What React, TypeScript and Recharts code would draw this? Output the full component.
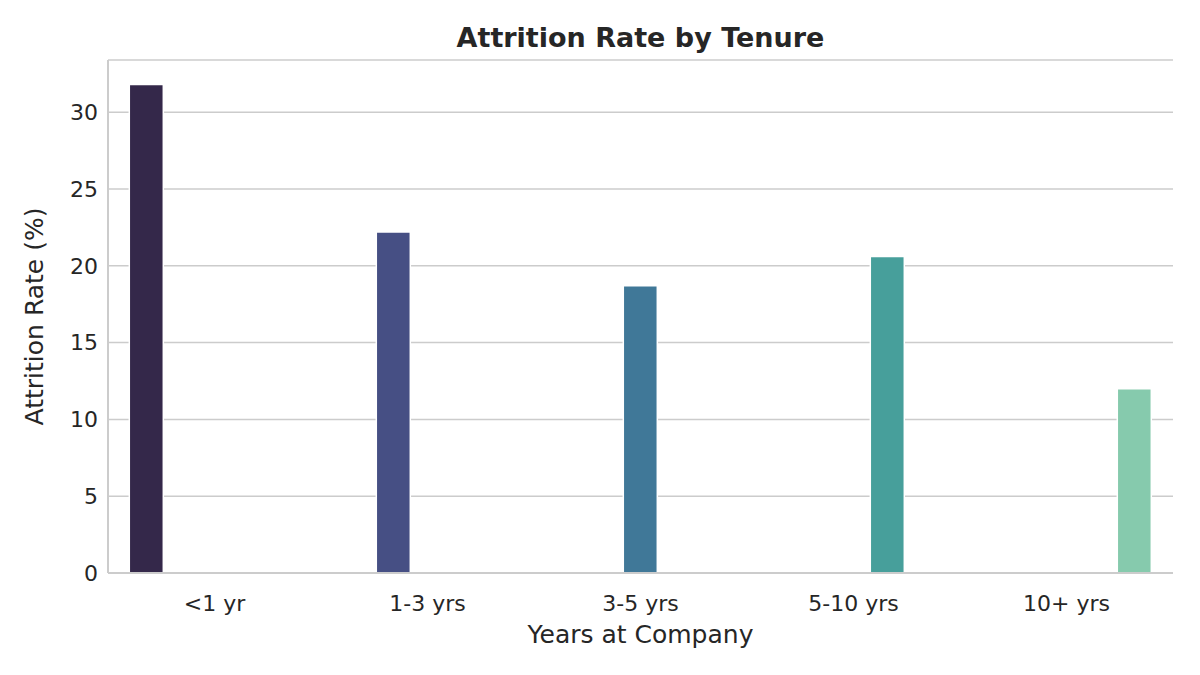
import { BarChart, Bar, XAxis, YAxis, CartesianGrid, Label } from 'recharts';

// Attrition rate (%) by years at company
const tenures = ['<1 yr', '1-3 yrs', '3-5 yrs', '5-10 yrs', '10+ yrs'];
const rates = [31.8, 22.2, 18.7, 20.6, 12.0];
const colors = ['#34284a', '#464f84', '#407898', '#479f9b', '#86caad'];
const yTicks = [0, 5, 10, 15, 20, 25, 30];

// seaborn hue=x: each category gets its own dodge slot, only one filled per group
const data = tenures.map((t, i) => {
  const row: Record<string, string | number | null> = { tenure: t };
  tenures.forEach((_, j) => {
    row[`s${j}`] = i === j ? rates[i] : null;
  });
  return row;
});

const FONT = 'DejaVu Sans, sans-serif';
const TEXT = '#262626';
const FRAME = '#cccccc';

export default function App() {
  return (
    <div style={{ position: 'absolute', left: 0, top: 0, width: 1200, height: 675, background: '#fff', fontFamily: FONT }}>
      <div
        style={{
          position: 'absolute',
          top: 22,
          left: 108,
          width: 1065,
          textAlign: 'center',
          fontSize: 27,
          lineHeight: '32px',
          fontWeight: 'bold',
          color: TEXT,
        }}
      >
        Attrition Rate by Tenure
      </div>
      <BarChart
        width={1200}
        height={675}
        data={data}
        margin={{ top: 60, right: 27, bottom: 32, left: 28 }}
        barCategoryGap="10%"
        barGap={0}
      >
        <CartesianGrid vertical={false} stroke={FRAME} strokeWidth={1.5} />
        <XAxis
          dataKey="tenure"
          height={70}
          tickLine={false}
          tickSize={0}
          tickMargin={22}
          axisLine={{ stroke: FRAME, strokeWidth: 2 }}
          tick={{ fill: TEXT, fontSize: 22, fontFamily: FONT }}
        >
          <Label value="Years at Company" position="insideBottom" offset={0} fill={TEXT} fontSize={25} fontFamily={FONT} />
        </XAxis>
        <XAxis xAxisId="top" orientation="top" dataKey="tenure" height={0} tick={false} tickLine={false} axisLine={{ stroke: FRAME, strokeWidth: 2 }} />
        <YAxis
          domain={[0, 33.4]}
          ticks={yTicks}
          width={80}
          tickLine={false}
          tickSize={0}
          tickMargin={10}
          axisLine={{ stroke: FRAME, strokeWidth: 2 }}
          tick={{ fill: TEXT, fontSize: 22, fontFamily: FONT }}
        >
          <Label value="Attrition Rate (%)" angle={-90} position="insideLeft" offset={0} dx={6} style={{ textAnchor: 'middle' }} fill={TEXT} fontSize={25} fontFamily={FONT} />
        </YAxis>
        <YAxis yAxisId="right" orientation="right" domain={[0, 33.4]} width={0} tick={false} tickLine={false} axisLine={{ stroke: FRAME, strokeWidth: 2 }} />
        {tenures.map((_, j) => (
          <Bar key={j} dataKey={`s${j}`} fill={colors[j]} stroke="#ffffff" strokeWidth={1.5} isAnimationActive={false} />
        ))}
      </BarChart>
    </div>
  );
}
